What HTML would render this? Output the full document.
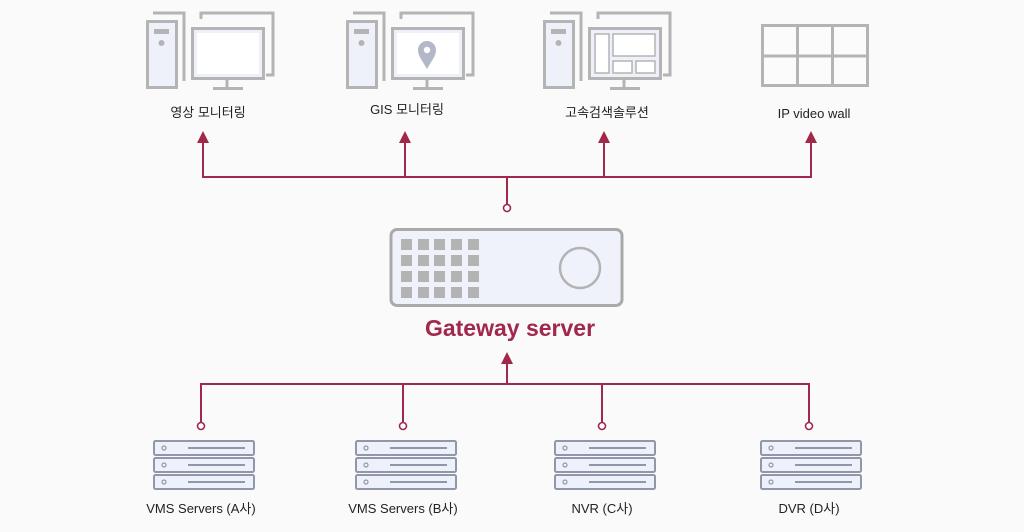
<!DOCTYPE html>
<html><head><meta charset="utf-8"><style>
html,body{margin:0;padding:0;background:#fafafa;}
svg{display:block}
text{font-family:"Liberation Sans","Noto Sans CJK KR",sans-serif;}
</style></head><body>
<svg width="1024" height="532" viewBox="0 0 1024 532" xmlns="http://www.w3.org/2000/svg">
<defs>
<g id="pc">
  <path d="M7 -7 H38 V61" fill="none" stroke="#b4b4b4" stroke-width="3"/>
  <rect x="1.5" y="1.5" width="29" height="66" fill="#eef1fa" stroke="#b4b4b4" stroke-width="3"/>
  <rect x="8" y="9" width="15" height="5" fill="#b4b4b4"/>
  <circle cx="15.5" cy="23" r="3" fill="#b4b4b4"/>
  <path d="M55 -1 V-7 H127 V55 H120" fill="none" stroke="#b4b4b4" stroke-width="3"/>
  <rect x="46.5" y="8.5" width="71" height="50" fill="#eef1fa" stroke="#b4b4b4" stroke-width="3"/>
  <line x1="81" y1="59" x2="81" y2="68" stroke="#b4b4b4" stroke-width="3"/>
  <line x1="67" y1="68.5" x2="97" y2="68.5" stroke="#b4b4b4" stroke-width="3"/>
</g>
<g id="srv">
  <rect x="1" y="1" width="100" height="14" rx="1.5" fill="#eef1fa" stroke="#9097ab" stroke-width="2"/>
  <circle cx="11" cy="8" r="2" fill="none" stroke="#9097ab" stroke-width="1.2"/>
  <line x1="35" y1="8" x2="92" y2="8" stroke="#9097ab" stroke-width="2"/>
</g>
<g id="stack">
  <use href="#srv" x="0" y="0"/>
  <use href="#srv" x="0" y="17"/>
  <use href="#srv" x="0" y="34"/>
</g>
</defs>

<!-- top icons -->
<g transform="translate(146,20)"><use href="#pc"/>
  <rect x="51" y="13" width="62" height="41" fill="#fff"/></g>
<g transform="translate(346,20)"><use href="#pc"/>
  <rect x="51" y="13" width="62" height="41" fill="#fff"/>
  <path d="M81 49 C76 40 72 36 72 30 A9 9 0 0 1 90 30 C90 36 86 40 81 49 Z" fill="#b3b8c8"/>
  <circle cx="81" cy="30" r="3.2" fill="#fff"/></g>
<g transform="translate(543,20)"><use href="#pc"/>
  <g fill="#fff" stroke="#b4b4b4" stroke-width="1.5">
   <rect x="52" y="14" width="14" height="39"/>
   <rect x="70" y="14" width="42" height="22"/>
   <rect x="70" y="41" width="19" height="12"/>
   <rect x="93" y="41" width="19" height="12"/></g></g>
<g fill="none" stroke="#b4b4b4" stroke-width="3">
  <rect x="762.5" y="25.5" width="105" height="60" fill="#fbfbfb"/>
  <line x1="797.5" y1="25" x2="797.5" y2="86"/>
  <line x1="832.5" y1="25" x2="832.5" y2="86"/>
  <line x1="762" y1="56" x2="868" y2="56"/>
</g>

<g font-size="13" fill="#222" text-anchor="middle">
  <text x="208" y="117">영상 모니터링</text>
  <text x="407" y="114">GIS 모니터링</text>
  <text x="607" y="117">고속검색솔루션</text>
  <text x="814" y="118">IP video wall</text>
</g>

<!-- connectors -->
<g stroke="#a1284a" stroke-width="2" fill="none">
  <path d="M203 141 V177 H811 V141"/>
  <path d="M405 141 V177"/>
  <path d="M604 141 V177"/>
  <path d="M507 177 V205"/>
  <path d="M507 362 V384"/>
  <path d="M201 423 V384 H809 V423"/>
  <path d="M403 384 V423"/>
  <path d="M602 384 V423"/>
</g>
<g fill="#a1284a">
  <path d="M203 131 L197 143 H209 Z"/>
  <path d="M405 131 L399 143 H411 Z"/>
  <path d="M604 131 L598 143 H610 Z"/>
  <path d="M811 131 L805 143 H817 Z"/>
  <path d="M507 352 L501 364 H513 Z"/>
</g>
<g fill="#fff" stroke="#a1284a" stroke-width="1.6">
  <circle cx="507" cy="208" r="3.5"/>
  <circle cx="201" cy="426" r="3.5"/>
  <circle cx="403" cy="426" r="3.5"/>
  <circle cx="602" cy="426" r="3.5"/>
  <circle cx="809" cy="426" r="3.5"/>
</g>

<!-- gateway -->
<rect x="391" y="229.5" width="231" height="76" rx="6" fill="#eff2fb" stroke="#a9a9a9" stroke-width="3"/>
<g fill="#b3b3b3">
  <rect x="401" y="239" width="11" height="11"/><rect x="418" y="239" width="11" height="11"/><rect x="434" y="239" width="11" height="11"/><rect x="451" y="239" width="11" height="11"/><rect x="468" y="239" width="11" height="11"/>
  <rect x="401" y="255" width="11" height="11"/><rect x="418" y="255" width="11" height="11"/><rect x="434" y="255" width="11" height="11"/><rect x="451" y="255" width="11" height="11"/><rect x="468" y="255" width="11" height="11"/>
  <rect x="401" y="271" width="11" height="11"/><rect x="418" y="271" width="11" height="11"/><rect x="434" y="271" width="11" height="11"/><rect x="451" y="271" width="11" height="11"/><rect x="468" y="271" width="11" height="11"/>
  <rect x="401" y="287" width="11" height="11"/><rect x="418" y="287" width="11" height="11"/><rect x="434" y="287" width="11" height="11"/><rect x="451" y="287" width="11" height="11"/><rect x="468" y="287" width="11" height="11"/>
</g>
<circle cx="580" cy="268" r="20" fill="none" stroke="#b3b3b3" stroke-width="2.5"/>
<text x="510" y="336" text-anchor="middle" font-size="23" font-weight="bold" fill="#a1284a">Gateway server</text>

<!-- servers -->
<use href="#stack" x="153" y="440"/>
<use href="#stack" x="355" y="440"/>
<use href="#stack" x="554" y="440"/>
<use href="#stack" x="760" y="440"/>
<g font-size="13" fill="#222" text-anchor="middle">
  <text x="201" y="513">VMS Servers (A사)</text>
  <text x="403" y="513">VMS Servers (B사)</text>
  <text x="602" y="513">NVR (C사)</text>
  <text x="809" y="513">DVR (D사)</text>
</g>
</svg>
</body></html>
